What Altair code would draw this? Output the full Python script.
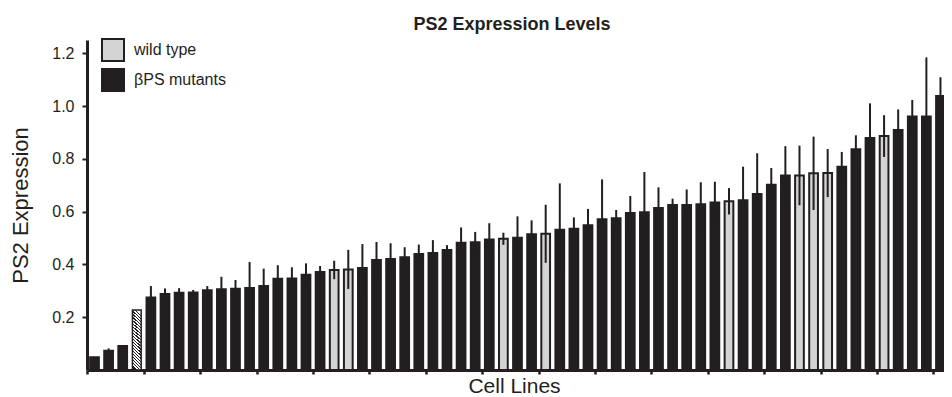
import altair as alt
import pandas as pd

# ---- data ----
cells = list(range(1, 63))
values = [0.048, 0.073, 0.091, 0.227, 0.275, 0.288, 0.293, 0.294, 0.302, 0.306,
          0.308, 0.311, 0.318, 0.346, 0.347, 0.361, 0.371, 0.379, 0.381, 0.386,
          0.417, 0.420, 0.427, 0.439, 0.443, 0.455, 0.482, 0.484, 0.494, 0.497,
          0.501, 0.514, 0.516, 0.531, 0.535, 0.548, 0.571, 0.575, 0.595, 0.598,
          0.614, 0.625, 0.625, 0.628, 0.634, 0.639, 0.643, 0.667, 0.702, 0.737,
          0.737, 0.745, 0.746, 0.770, 0.836, 0.879, 0.886, 0.909, 0.960, 0.960,
          1.038, 1.063]
errors = [0.0, 0.009, 0.0, 0.0, 0.043, 0.021, 0.017, 0.009, 0.016, 0.047,
          0.033, 0.098, 0.066, 0.051, 0.042, 0.043, 0.023, 0.035, 0.074, 0.091,
          0.068, 0.060, 0.038, 0.036, 0.049, 0.018, 0.058, 0.039, 0.062, 0.023,
          0.081, 0.053, 0.110, 0.176, 0.043, 0.062, 0.151, 0.031, 0.064, 0.152,
          0.078, 0.024, 0.059, 0.083, 0.079, 0.050, 0.127, 0.154, 0.063, 0.111,
          0.113, 0.139, 0.091, 0.056, 0.053, 0.131, 0.079, 0.078, 0.063, 0.224,
          0.071, 0.050]
wild_type_cells = [18, 19, 30, 33, 46, 51, 52, 53, 57]
hatched_cells = [4]
legend_labels = ["wild type", "βPS mutants"]
tick_values = [0.2, 0.4, 0.6, 0.8, 1.0, 1.2]

groups = []
for c in cells:
    if c in hatched_cells:
        groups.append("hatched")
    elif c in wild_type_cells:
        groups.append("wild type")
    else:
        groups.append("βPS mutants")

df = pd.DataFrame({"cell": cells, "value": values, "err": errors, "group": groups})

INK = "#231f20"
GRAY = "#d4d4d4"
FONT = "Liberation Sans"

xscale = alt.Scale(domain=[0.468, 61.25], nice=False, zero=False)
yscale = alt.Scale(domain=[0, 1.25], nice=False, zero=True)

x_axis = alt.Axis(values=[c - 0.5 for c in cells], labels=False, grid=False,
                  tickSize=4, tickWidth=2.5, tickColor=INK,
                  domainWidth=3, domainColor=INK,
                  title="Cell Lines", titleFontSize=21, titleFontWeight="normal",
                  titleColor=INK, titlePadding=0, titleX=427, titleFont=FONT)
y_axis = alt.Axis(values=tick_values, format=".1f", grid=False,
                  tickSize=5, tickWidth=2, tickColor=INK,
                  domainWidth=3, domainColor=INK,
                  labelFontSize=16, labelPadding=8, labelColor=INK, labelFont=FONT,
                  title="PS2 Expression", titleFontSize=22, titleFontWeight="normal",
                  titleColor=INK, titlePadding=19, titleFont=FONT)

base = alt.Chart(df).transform_calculate(
    x0="datum.cell - 0.31", x1="datum.cell + 0.31",
    lo="datum.value - datum.err", hi="datum.value + datum.err")

bars = base.transform_filter(alt.datum.group != "hatched").mark_rect(
    stroke=INK, strokeWidth=2, clip=True
).encode(
    x=alt.X("x0:Q", scale=xscale, axis=x_axis),
    x2="x1:Q",
    y=alt.Y("value:Q", scale=yscale, axis=y_axis),
    y2=alt.datum(0),
    color=alt.Color("group:N",
                    scale=alt.Scale(domain=legend_labels, range=[GRAY, INK]),
                    legend=alt.Legend(title=None, orient="none", legendX=14, legendY=-2,
                                      symbolType="square", symbolSize=484,
                                      symbolStrokeColor=INK, symbolStrokeWidth=2,
                                      labelFontSize=16, labelFont=FONT, labelColor=INK,
                                      labelOffset=9, rowPadding=0, padding=0)),
)

# diagonal hatch for the single striped bar
N = 20
stops = []
for k in range(N):
    a, b, c = k / N, (k + 0.4) / N, (k + 1) / N
    stops += [alt.GradientStop(color=INK, offset=a), alt.GradientStop(color=INK, offset=b),
              alt.GradientStop(color="#ffffff", offset=b), alt.GradientStop(color="#ffffff", offset=c)]
hatch = alt.LinearGradient(gradient="linear", stops=stops, x1=0.433, y1=1, x2=0.567, y2=0)

hatched = base.transform_filter(alt.datum.group == "hatched").mark_rect(
    fill=hatch, stroke=INK, strokeWidth=1.5, clip=True
).encode(
    x=alt.X("x0:Q", scale=xscale, title="Cell Lines"),
    x2="x1:Q",
    y=alt.Y("value:Q", scale=yscale, title="PS2 Expression"),
    y2=alt.datum(0),
)

rules = base.transform_filter("datum.err > 0").mark_rule(
    color=INK, strokeWidth=2, clip=True
).encode(
    x=alt.X("cell:Q", scale=xscale, title="Cell Lines"),
    y=alt.Y("lo:Q", scale=yscale, title="PS2 Expression"),
    y2="hi:Q",
)

chart = alt.layer(bars, hatched, rules).properties(
    width=857, height=330,
    autosize=alt.AutoSizeParams(type="none"),
    padding={"left": 79, "top": 32, "right": 0, "bottom": 27},
    title=alt.Title("PS2 Expression Levels", fontSize=18, fontWeight="bold", font=FONT,
                    color=INK, anchor="middle", baseline="alphabetic", offset=8,
                    dx=-3.5, dy=18),
).configure(font=FONT).configure_view(stroke=None)

chart.save("out.html", embed_options={"renderer": "svg", "actions": False})
